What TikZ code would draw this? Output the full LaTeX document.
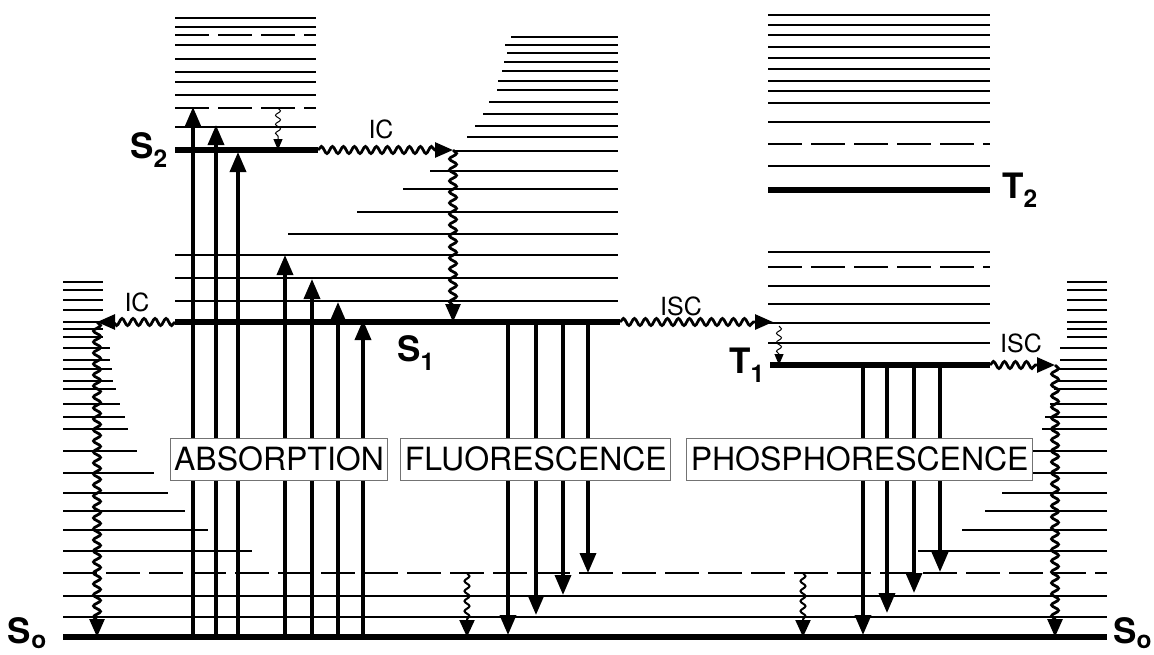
\documentclass[tikz,border=0pt]{standalone}
\usepackage{fontspec}
\setmainfont{TeX Gyre Heros}
\usetikzlibrary{arrows.meta, decorations.pathmorphing, positioning}

\begin{document}
\begin{tikzpicture}[
    x=1pt, y=-1pt,
    level/.style={line width=6pt},
    vib/.style={line width=1.3pt},
    vibdash/.style={vib, dash pattern=on 34pt off 9pt},
    ray/.style={line width=3.5pt, -{Triangle[length=20pt,width=16pt]}},
    wave/.style={line width=2.8pt, -{Triangle[length=18pt,width=15pt]}, decorate,
                 decoration={snake, amplitude=3.5pt, segment length=11pt, post length=16pt}},
    relax/.style={line width=2pt, -{Triangle[length=17pt,width=15pt]}, decorate,
                 decoration={snake, amplitude=2.5pt, segment length=10pt, post length=16pt}},
    twitch/.style={line width=1pt, -{Triangle[length=11pt,width=9pt]}, decorate,
                 decoration={snake, amplitude=2.5pt, segment length=9pt, post length=10pt}},
    lvl/.style={font=\bfseries\fontsize{35}{35}\selectfont, inner sep=0pt},
    tag/.style={font=\fontsize{25}{25}\selectfont, inner sep=0pt},
    proc/.style={draw=black!55, line width=1pt, fill=white, font=\fontsize{32}{32}\selectfont,
                 minimum height=42pt, inner xsep=4pt},
]
\useasboundingbox (0,0) rectangle (1154,654);

\coordinate (S0w) at (63,637);  \coordinate (S0e) at (1107,637);
\coordinate (S1w) at (175,322); \coordinate (S1e) at (620,322);
\coordinate (S2w) at (175,150); \coordinate (S2e) at (318,150);
\coordinate (T1w) at (770,365); \coordinate (T1e) at (990,365);
\coordinate (T2w) at (768,190); \coordinate (T2e) at (990,190);

% vibrational levels of S0, both flanks
\foreach \y/\w in {282/40, 290/40, 300/40, 310/40, 322/40, 329/40, 337/40, 348/47,
                   360/47, 369/49, 381/50, 389/53, 404/57, 417/62, 429/65, 451/74,
                   473/91, 493/105, 511/122, 530/145, 551/189}
  \draw[vib] (63,\y) -- ++(\w,0) (1107,\y) -- ++(-\w,0);
\foreach \y in {596,617} \draw[vib] (63,\y) -- (1107,\y);
\draw[vibdash] (63,573) -- (1107,573);

% vibrational levels of S1 and S2
\foreach \y/\x in {37/511, 45/505, 53/507, 62/504, 71/502, 81/498, 90/497, 102/489,
                   114/483, 126/475, 137/467, 151/455, 171/430, 189/403, 212/357,
                   234/288, 255/175, 278/175, 301/175}
  \draw[vib] (\x,\y) -- (618,\y);
\foreach \y in {18,27,45,59,72,82,95,127} \draw[vib] (175,\y) -- (316,\y);
\foreach \y in {35,108} \draw[vibdash] (175,\y) -- (316,\y);

% triplet manifold
\foreach \y in {15,25,35,47,58,69,81,91,103,122,166,252,286,304,323,343}
  \draw[vib] (768,\y) -- (990,\y);
\foreach \y in {144,267} \draw[vibdash] (768,\y) -- (990,\y);

\draw[level] (S0w) -- (S0e);
\draw[level] (S1w) -- (S1e);
\draw[level] (S2w) -- (S2e);
\draw[level] (T1w) -- (T1e);
\draw[level] (T2w) -- (T2e);

% absorption
\foreach \i/\x/\y in {1/193/107, 2/216/125, 3/238/152, 4/285/255, 5/312/279, 6/338/302, 7/363/320} {
  \coordinate (abs\i) at (\x,637);
  \coordinate (exc\i) at (\x,\y);
  \draw[ray] (abs\i) -- (exc\i);
}
% fluorescence
\foreach \i/\x/\y in {1/508/635, 2/536/615, 3/563/595, 4/588/573} {
  \coordinate (flo\i) at (\x,322);
  \coordinate (flg\i) at (\x,\y);
  \draw[ray] (flo\i) -- (flg\i);
}
% phosphorescence
\foreach \i/\x/\y in {1/863/635, 2/887/613, 3/914/593, 4/940/572} {
  \coordinate (pho\i) at (\x,365);
  \coordinate (phg\i) at (\x,\y);
  \draw[ray] (pho\i) -- (phg\i);
}

% radiationless steps
\coordinate (icA) at (453,150);
\coordinate (icB) at (97,322);
\coordinate (iscA) at (773,322);
\coordinate (iscB) at (1055,365);
\draw[wave] (S2e) -- (icA);
\draw[wave] (icA) -- (icA |- S1w);
\draw[wave] (S1w) -- (icB);
\draw[wave] (icB) -- (icB |- S0w);
\draw[wave] (S1e) -- (iscA);
\draw[wave] (T1e) -- (iscB);
\draw[wave] (iscB) -- (iscB |- S0w);

\coordinate (vr1) at (278,108);
\coordinate (vr2) at (779,326);
\coordinate (vr3) at (467,573);
\coordinate (vr4) at (803,573);
\draw[twitch] (vr1) -- (vr1 |- S2w);
\draw[twitch] (vr2) -- (vr2 |- T1w);
\draw[relax] (vr3) -- (vr3 |- S0w);
\draw[relax] (vr4) -- (vr4 |- S0w);

\node[tag] (icT) at (381,129) {IC};
\node[tag] (icL) at (137,302) {IC};
\node[tag] (iscT) at (681,306) {ISC};
\node[tag] (iscR) at (1021,343) {ISC};

\node[proc] (absorb) at (279,459) {ABSORPTION};
\node[proc, right=12pt of absorb] (fluor) {FLUORESCENCE};
\node[proc, right=15pt of fluor] (phos) {PHOSPHORESCENCE};

\node[lvl, left=16pt of S0w, yshift=4pt] (labS0) {S\textsubscript{o}};
\node[lvl, right=6pt of S0e, yshift=4pt] (labS0r) {S\textsubscript{o}};
\node[lvl] (labS1) at (416,353) {S\textsubscript{1}};
\node[lvl, left=7pt of S2w] (labS2) {S\textsubscript{2}};
\node[lvl, left=5pt of T1w] (labT1) {T\textsubscript{1}};
\node[lvl, right=12pt of T2e] (labT2) {T\textsubscript{2}};
\end{tikzpicture}
\end{document}
